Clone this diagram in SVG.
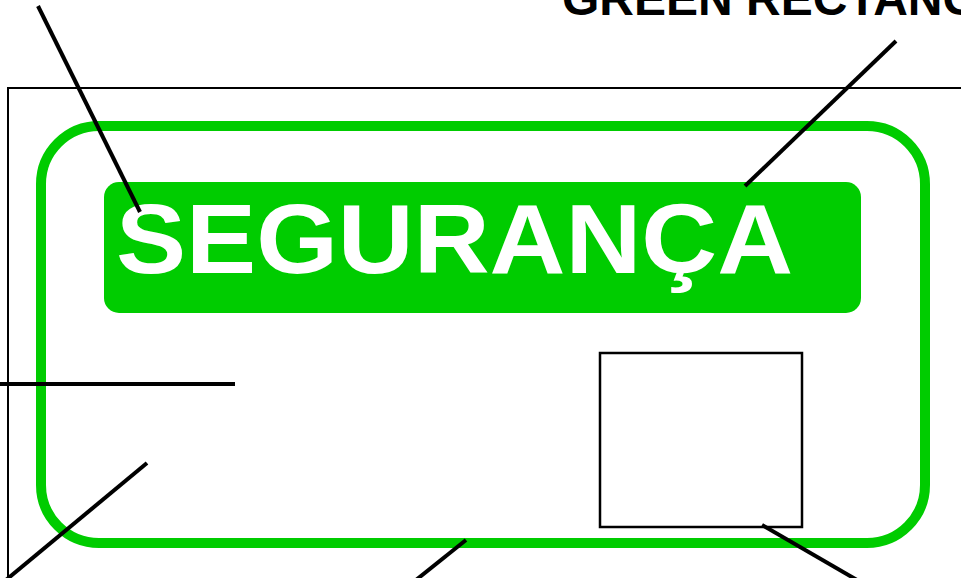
<svg xmlns="http://www.w3.org/2000/svg" width="961" height="578" viewBox="0 0 961 578">
<style>
.frame{fill:#fff;stroke:#000;stroke-width:2}
.border{fill:none;stroke:#00cc00;stroke-width:10}
.banner{fill:#00cc00;stroke:none}
.box{fill:#fff;stroke:#000;stroke-width:2.5}
.lead{stroke:#000;stroke-width:4;fill:none}
.label{font-family:"Liberation Sans",Arial,sans-serif;font-weight:bold;fill:#000}
.title{font-family:"Liberation Sans",Arial,sans-serif;font-weight:bold;fill:#fff}
</style>
<rect width="961" height="578" fill="#fff"/>
<g id="frame"><rect class="frame" x="8" y="88" width="1000" height="560"/></g>
<g id="green-border"><rect class="border" x="41" y="126" width="884" height="417" rx="58" ry="58"/></g>
<g id="banner">
<rect class="banner" x="104" y="182" width="757" height="131" rx="15" ry="15"/>
<text class="title" x="116" y="273" font-size="98" textLength="677" lengthAdjust="spacingAndGlyphs">SEGURANÇA</text>
</g>
<g id="photo-box"><rect class="box" x="600" y="353" width="202" height="174"/></g>
<g id="label-top"><text class="label" x="562" y="15" font-size="48">GREEN RECTANGLE</text></g>
<g id="connectors">
<line class="lead" x1="38" y1="6" x2="140" y2="212"/>
<line class="lead" x1="896" y1="41" x2="745" y2="186"/>
<line class="lead" x1="0" y1="384" x2="235" y2="384"/>
<line class="lead" x1="147" y1="463" x2="6" y2="580"/>
<line class="lead" x1="466" y1="540" x2="416" y2="580"/>
<line class="lead" x1="762" y1="525" x2="857" y2="580"/>
</g>
</svg>
